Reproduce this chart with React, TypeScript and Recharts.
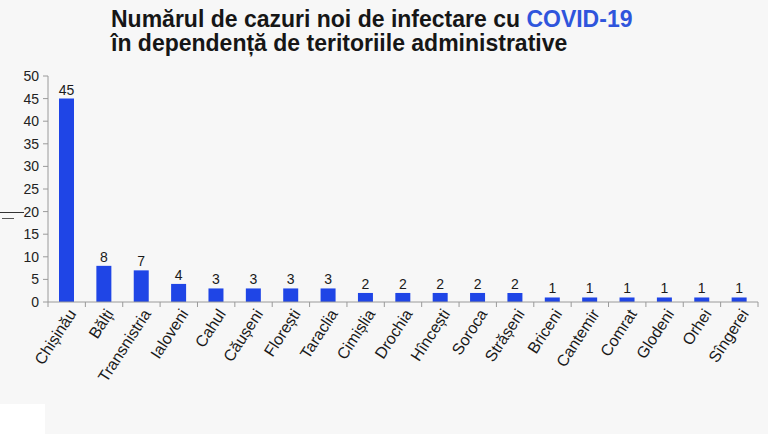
import React from "react";
import { BarChart, Bar, XAxis, YAxis, LabelList } from "recharts";

const categories = [
  "Chișinău", "Bălți", "Transnistria", "Ialoveni", "Cahul", "Căușeni", "Florești",
  "Taraclia", "Cimișlia", "Drochia", "Hîncești", "Soroca", "Strășeni", "Briceni",
  "Cantemir", "Comrat", "Glodeni", "Orhei", "Sîngerei",
];
const cases = [45, 8, 7, 4, 3, 3, 3, 3, 2, 2, 2, 2, 2, 1, 1, 1, 1, 1, 1];
const yTicks = [0, 5, 10, 15, 20, 25, 30, 35, 40, 45, 50];

const data = categories.map((name, i) => ({ name, value: cases[i] }));

const FONT = "'Liberation Sans', Arial, sans-serif";
const CHART_W = 768;
const MARGIN = { top: 76, right: 10, bottom: 12, left: 8 };
const Y_W = 40;
const HALF_BAND = (CHART_W - MARGIN.left - MARGIN.right - Y_W) / categories.length / 2;

const XTick = (props: any) => {
  const { x, y, payload, index } = props;
  const isLast = index === categories.length - 1;
  return (
    <g>
      <line x1={x - HALF_BAND} x2={x - HALF_BAND} y1={y - 10} y2={y - 5} stroke="#9a9a9a" />
      {isLast && (
        <line x1={x + HALF_BAND} x2={x + HALF_BAND} y1={y - 10} y2={y - 5} stroke="#9a9a9a" />
      )}
      <g transform={`translate(${x + 6},${y - 1})`}>
        <text
          textAnchor="end"
          transform="rotate(-57)"
          fontSize={16}
          fill="#1a1a1a"
          fontFamily={FONT}
          dy={5}
        >
          {payload.value}
        </text>
      </g>
    </g>
  );
};

export default function App() {
  return (
    <div
      style={{
        position: "absolute",
        left: 0,
        top: 0,
        width: 768,
        height: 434,
        background: "#f7f7f7",
        fontFamily: FONT,
        overflow: "hidden",
      }}
    >
      <div
        style={{
          position: "absolute",
          left: 111,
          top: 7,
          fontSize: 23,
          fontWeight: 700,
          lineHeight: "24px",
          color: "#161616",
          letterSpacing: 0,
          whiteSpace: "nowrap",
        }}
      >
        <div>
          Numărul de cazuri noi de infectare cu{" "}
          <span style={{ color: "#2f55dc" }}>COVID-19</span>
        </div>
        <div>în dependență de teritoriile administrative</div>
      </div>
      <div style={{ position: "absolute", left: 0, top: 404, width: 45, height: 30, background: "#ffffff" }} />
      <div style={{ position: "absolute", left: 0, top: 212, width: 24, height: 1, background: "#333" }} />
      <div style={{ position: "absolute", left: 2, top: 218, width: 12, height: 1, background: "#555" }} />
      <BarChart width={CHART_W} height={434} data={data} margin={MARGIN}>
        <XAxis
          dataKey="name"
          interval={0}
          axisLine={{ stroke: "#9a9a9a" }}
          tickLine={{ stroke: "none" }}
          tickSize={8}
          height={120}
          tick={<XTick />}
        />
        <YAxis
          domain={[0, 50]}
          ticks={yTicks}
          width={Y_W}
          stroke="#9a9a9a"
          tickSize={5}
          tickMargin={4}
          tick={{ fontSize: 14, fill: "#222", fontFamily: FONT }}
          interval={0}
        />
        <Bar dataKey="value" fill="#1f45e6" barSize={15} isAnimationActive={false}>
          <LabelList
            dataKey="value"
            position="top"
            fill="#1a1a1a"
            fontSize={14}
            fontFamily={FONT}
            offset={4}
          />
        </Bar>
      </BarChart>
    </div>
  );
}
